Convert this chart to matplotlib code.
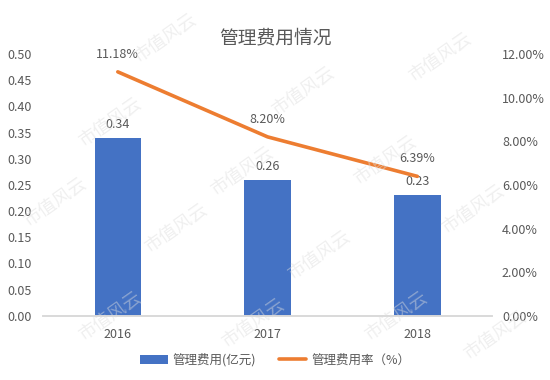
import matplotlib
matplotlib.use('Agg')
import matplotlib.pyplot as plt
from matplotlib.ticker import FuncFormatter

plt.rcParams['font.family'] = ['Noto Sans CJK SC', 'DejaVu Sans']

# 数据
years = ['2016', '2017', '2018']
expense = [0.34, 0.26, 0.23]          # 管理费用(亿元)
expense_rate = [11.18, 8.20, 6.39]    # 管理费用率 (%)

blue = '#4472C4'
orange = '#ED7D31'
grey = '#595959'

fig = plt.figure(figsize=(5.5, 3.8), dpi=100)
ax = fig.add_axes([0.078, 0.169, 0.817, 0.689])
ax2 = ax.twinx()

x = list(range(len(years)))
bars = ax.bar(x, expense, width=0.31, color=blue, label='管理费用(亿元)', zorder=2)
ax2.plot(x, expense_rate, color=orange, linewidth=2.6, label='管理费用率（%）',
         solid_capstyle='round', zorder=3)

for xi, v in zip(x, expense):
    ax.annotate(f'{v:.2f}', (xi, v), xytext=(0, 5), textcoords='offset points',
                ha='center', va='bottom', fontsize=9, color=grey)
for xi, v in zip(x, expense_rate):
    ax2.annotate(f'{v:.2f}%', (xi, v), xytext=(0, 8), textcoords='offset points',
                 ha='center', va='bottom', fontsize=9, color=grey)

ax.set_xlim(-0.5, 2.5)
ax.set_ylim(0, 0.5)
ax.set_yticks([i * 0.05 for i in range(11)])
ax.yaxis.set_major_formatter(FuncFormatter(lambda v, p: f'{v:.2f}'))
ax2.set_ylim(0, 12)
ax2.set_yticks(range(0, 13, 2))
ax2.yaxis.set_major_formatter(FuncFormatter(lambda v, p: f'{v:.2f}%'))

ax.set_xticks(x)
ax.set_xticklabels(years)

for a in (ax, ax2):
    for s in ['top', 'left', 'right']:
        a.spines[s].set_visible(False)
    a.spines['bottom'].set_color('#D9D9D9')
    a.spines['bottom'].set_linewidth(1.2)
    a.tick_params(length=0, labelsize=9, colors=grey)
ax.tick_params(axis='y', pad=8)
ax.tick_params(axis='x', pad=9)
ax2.tick_params(axis='y', pad=7)

fig.text(0.5, 0.9, '管理费用情况', ha='center', va='center', fontsize=13.5, color=grey)

handles = [bars, ax2.get_lines()[0]]
fig.legend(handles, [h.get_label() for h in handles], loc='center',
           bbox_to_anchor=(0.5, 0.053), ncol=2, frameon=False, fontsize=9,
           labelcolor=grey, handlelength=2.2, columnspacing=1.8, handletextpad=0.4)

# 水印
for wx, wy in [(0.3, 0.9), (0.55, 0.76), (0.8, 0.85), (0.2, 0.68),
               (0.44, 0.55), (0.7, 0.58), (0.1, 0.47), (0.32, 0.4), (0.58, 0.33),
               (0.86, 0.45), (0.2, 0.17), (0.46, 0.15), (0.72, 0.17), (0.9, 0.12)]:
    fig.text(wx, wy, '市值风云', fontsize=13, color='#DDDDDD', alpha=0.45,
             rotation=35, ha='center', va='center', zorder=0)

fig.savefig('out.png', dpi=100)
